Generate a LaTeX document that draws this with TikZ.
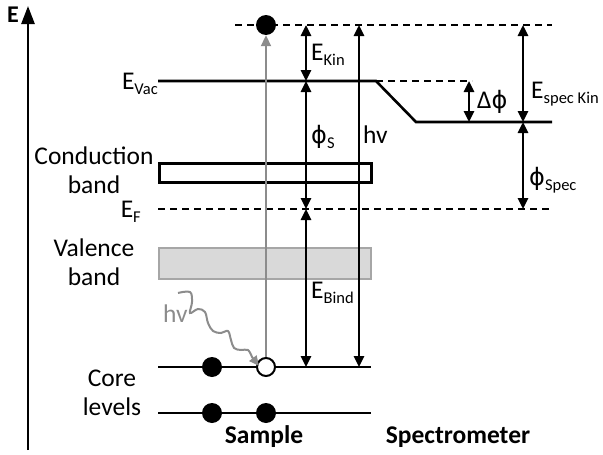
\documentclass[tikz,border=0pt]{standalone}
\usepackage{fontspec}
\setmainfont{Carlito}
\newfontfamily\dvs{DejaVu Sans}
\usetikzlibrary{arrows.meta}
\definecolor{gr}{HTML}{8C8C8C}
\definecolor{vfill}{HTML}{D9D9D9}
\definecolor{vdraw}{HTML}{A6A6A6}
\newcommand\sbs[1]{\raisebox{-5pt}{\fontsize{16.5}{16.5}\selectfont #1}}
\newcommand\ph{{\dvs\fontsize{24}{24}\selectfont ϕ}}
\begin{document}
\begin{tikzpicture}[x=1pt,y=-1pt,
  font=\fontsize{25.5}{29}\selectfont,
  ln/.style={line width=2.6pt},
  dsh/.style={line width=2.3pt, dash pattern=on 7pt off 5pt},
  tip/.tip={Triangle[length=11pt,width=10pt]},
  dbl/.style={line width=2.6pt, tip-tip},
  lbl/.style={inner sep=0pt, anchor=base west},
  lblc/.style={inner sep=0pt, anchor=base, align=center},
  dot/.style={circle, fill=black, inner sep=0pt, minimum size=20pt},
  hole/.style={circle, draw=black, fill=white, line width=2pt, inner sep=0pt, minimum size=18pt},
]
\useasboundingbox (0,0) rectangle (603,455);

% axis
\coordinate (axB) at (28,450);
\coordinate (axT) at (28,6);
\draw[line width=2.6pt, -{Triangle[length=18pt,width=13pt]}] (axB) -- (axT);
\node[inner sep=0pt, anchor=base west, font=\fontsize{24}{24}\selectfont\bfseries] (Elab) at (7,23) {E};

% level coordinates
\coordinate (topL) at (235,25);  \coordinate (topR) at (552,25);
\coordinate (vacL) at (158,81);  \coordinate (vacK) at (376,81);
\coordinate (vacD) at (472,81);
\coordinate (spK) at (416,122);  \coordinate (spR) at (552,122);
\coordinate (efL) at (158,209);  \coordinate (efR) at (552,209);
\coordinate (c1L) at (158,367);  \coordinate (c1R) at (371,367);
\coordinate (c2L) at (158,413);  \coordinate (c2R) at (371,413);

% levels
\draw[dsh] (topL) -- (topR);
\draw[ln] (vacL) -- (vacK) -- (spK) -- (spR);
\draw[dsh] (vacK) -- (vacD);
\draw[dsh] (efL) -- (efR);
\node[draw=black, line width=2.6pt, fill=white, inner sep=0pt, minimum width=212pt, minimum height=19pt, anchor=north west] (cb) at (158,162) {};
\node[draw=vdraw, line width=2pt, fill=vfill, inner sep=0pt, minimum width=212pt, minimum height=31pt, anchor=north west] (vb) at (158,247) {};
\draw[ln] (c1L) -- (c1R);
\draw[ln] (c2L) -- (c2R);

% electrons
\node[dot] (etop) at (266,25) {};
\node[dot] (e1a) at (212,367) {};
\node[hole] (h1) at (266,367) {};
\node[dot] (e2a) at (212,413) {};
\node[dot] (e2b) at (266,413) {};

% gray photoelectron arrow
\draw[gr, line width=2pt, -{Triangle[length=11pt,width=10pt]}] (h1.north) -- (etop.south);

% energy arrows
\coordinate (kA) at (306,25); \coordinate (kB) at (306,81);
\coordinate (sB) at (306,209); \coordinate (bB) at (306,367);
\coordinate (hA) at (359,25); \coordinate (hB) at (359,367);
\coordinate (pA) at (523,25); \coordinate (pB) at (523,122); \coordinate (pC) at (523,209);
\coordinate (dA) at (469,81); \coordinate (dB) at (469,122);
\draw[dbl] (kA) -- (kB);
\draw[dbl] (kB) -- (sB);
\draw[dbl] (sB) -- (bB);
\draw[dbl] (hA) -- (hB);
\draw[dbl] (pA) -- (pB);
\draw[dbl] (pB) -- (pC);
\draw[dbl] (dA) -- (dB);

% wavy photon
\coordinate (wE) at (259,366);
\draw[gr, line width=2pt, -{Triangle[length=10pt,width=9pt]}]
  plot[smooth, tension=0.6] coordinates {(178,293) (190,292) (192,302) (190,313) (198,309) (205,312) (208,323) (213,331) (221,333) (228,331) (231,340) (234,348) (241,350) (248,350) (252,357)} -- (wE);
\node[lbl, text=gr] (hvg) at (163,322) {hv};

% labels
\node[inner sep=0pt, anchor=base east] (lvac) at (158,89) {E\sbs{Vac}};
\node[inner sep=0pt, anchor=base east] (lef) at (141,217) {E\sbs{F}};
\node[lblc] (lcb) at (94,193) {Conduction\\band};
\node[lblc] (lvb) at (94,285) {Valence\\band};
\node[lblc] (lcl) at (112,415) {Core\\levels};
\node[lblc, font=\fontsize{25.5}{29}\selectfont\bfseries] (lsam) at (264,443) {Sample};
\node[lblc, font=\fontsize{25.5}{29}\selectfont\bfseries] (lspe) at (458,443) {Spectrometer};

\node[lbl] (lkin) at (311,60) {E\sbs{Kin}};
\node[lbl] (lphs) at (311,143) {\ph\sbs{S}};
\node[lbl] (lhv) at (363,143) {hv};
\node[lbl] (lbind) at (311,298) {E\sbs{Bind}};
\node[lbl] (ldph) at (477,108) {Δ\ph};
\node[lbl] (lspk) at (531,98) {E\sbs{spec Kin}};
\node[lbl] (lphsp) at (529,185) {\ph\sbs{Spec}};
\end{tikzpicture}
\end{document}
